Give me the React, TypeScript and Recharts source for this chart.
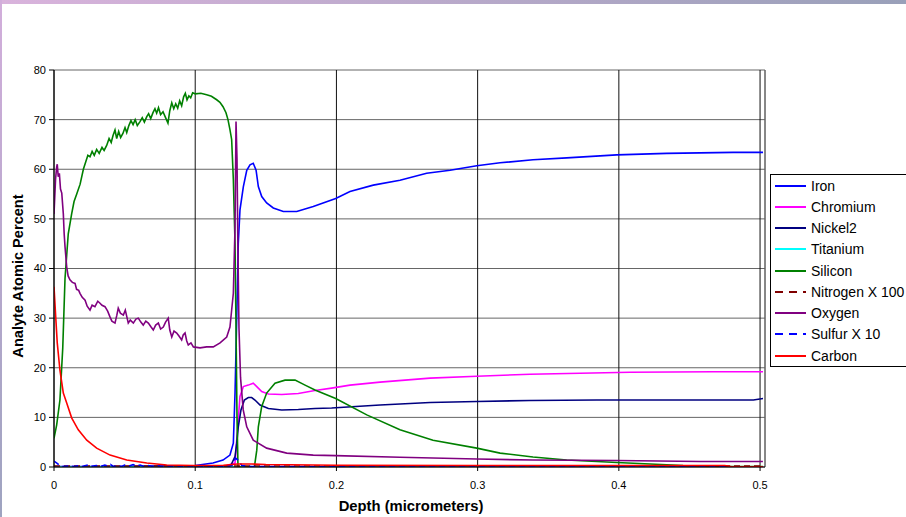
import React from 'react';
import { LineChart, Line, XAxis, YAxis, CartesianGrid, Legend, ReferenceLine } from 'recharts';

const xTicks = [0, 0.1, 0.2, 0.3, 0.4, 0.5];
const yTicks = [0, 10, 20, 30, 40, 50, 60, 70, 80];
const X_MAX = 0.5035;

// [depth, atomic %]
const ironPts: [number, number][] = [
  [0, 0.1], [0.05, 0.1], [0.1, 0.3], [0.1126, 0.8], [0.1197, 1.4], [0.1246, 2.4], [0.127, 4.8],
  [0.1282, 14.9], [0.1298, 35], [0.1305, 45], [0.1317, 51.8], [0.1341, 56.5], [0.1365, 59.8],
  [0.1388, 60.9], [0.1411, 61.2], [0.1431, 59.8], [0.1447, 56.5], [0.1471, 54.5], [0.1506, 53.2],
  [0.1553, 52.2], [0.1624, 51.5], [0.1719, 51.5], [0.1836, 52.5], [0.1995, 54.1], [0.2096, 55.5],
  [0.2261, 56.8], [0.245, 57.8], [0.2639, 59.2], [0.2805, 59.8], [0.2994, 60.7], [0.3159, 61.3],
  [0.3392, 61.9], [0.3631, 62.3], [0.3867, 62.7], [0.3985, 62.9], [0.4339, 63.2], [0.4809, 63.4],
  [0.5021, 63.4],
];

const chromiumPts: [number, number][] = [
  [0, 0], [0.12, 0.1], [0.1246, 0.5], [0.1282, 0.8], [0.1301, 8.1], [0.1317, 14.2], [0.1341, 16.2],
  [0.1376, 16.5], [0.1411, 16.9], [0.1436, 16.2], [0.1471, 15.2], [0.1518, 14.7], [0.1613, 14.6],
  [0.173, 14.8], [0.1848, 15.4], [0.1966, 15.9], [0.2096, 16.5], [0.2309, 17.1], [0.2663, 17.9],
  [0.2994, 18.3], [0.3371, 18.7], [0.3725, 18.9], [0.4079, 19.1], [0.4667, 19.2], [0.5021, 19.2],
];

const nickelPts: [number, number][] = [
  [0, 0], [0.125, 0.2], [0.1282, 2.1], [0.1294, 4.8], [0.1305, 8.1], [0.1324, 11.5], [0.1348, 13.5],
  [0.1376, 14.0], [0.14, 14.0], [0.1423, 13.5], [0.1459, 12.5], [0.1518, 11.8], [0.1613, 11.5],
  [0.173, 11.6], [0.1848, 11.8], [0.1966, 11.9], [0.2309, 12.5], [0.2663, 13.0], [0.2994, 13.2],
  [0.3371, 13.4], [0.3843, 13.5], [0.4315, 13.5], [0.4953, 13.5], [0.5021, 13.8],
];

const titaniumPts: [number, number][] = [[0, 0], [0.25, 0], [0.5021, 0]];

const siliconPts: [number, number][] = [
  [0, 5.8], [0.0019, 8.5], [0.0042, 13.5], [0.0062, 24], [0.0078, 38], [0.0101, 47], [0.0125, 51],
  [0.0142, 53.5], [0.0161, 55], [0.0185, 57], [0.0208, 60], [0.0225, 61.5], [0.024, 62.8],
  [0.0255, 62.5], [0.027, 63.6], [0.0285, 62.8], [0.0302, 64], [0.032, 63.2], [0.034, 64.4],
  [0.0355, 63.8], [0.0373, 64.8], [0.039, 66.2], [0.0405, 65.4], [0.0418, 66.8], [0.0432, 67.9],
  [0.0444, 66.2], [0.0458, 67.6], [0.0472, 66.4], [0.0488, 67.2], [0.0503, 68.4], [0.0515, 67.4],
  [0.053, 68.8], [0.0545, 69.8], [0.056, 69], [0.0575, 70], [0.059, 68.8], [0.0609, 69.6],
  [0.0625, 70.4], [0.064, 69.5], [0.0657, 70.6], [0.067, 71.2], [0.0685, 70.2], [0.0701, 71.4],
  [0.0715, 72.2], [0.0727, 71.3], [0.074, 72.4], [0.0755, 71], [0.0772, 71.6], [0.079, 70.4],
  [0.0807, 69.3], [0.082, 71.8], [0.0834, 73.4], [0.0848, 72.2], [0.0862, 73.2], [0.0876, 72.3],
  [0.089, 73.8], [0.0904, 72.8], [0.0918, 74.6], [0.093, 75.3], [0.0942, 74], [0.0955, 74.8],
  [0.0968, 74.4], [0.0982, 75.4], [0.1, 75.2], [0.104, 75.3], [0.1081, 75], [0.1115, 74.7],
  [0.1152, 74], [0.1175, 73.5], [0.1197, 72.6], [0.1218, 71.4], [0.1232, 70], [0.1246, 68],
  [0.1258, 66], [0.127, 58], [0.1282, 45], [0.1289, 28], [0.1296, 10], [0.1303, 0], [0.1419, 0],
  [0.1436, 3.4], [0.1447, 8.1], [0.1471, 12.2], [0.1506, 14.9], [0.1565, 16.9], [0.1636, 17.5],
  [0.1707, 17.5], [0.1778, 16.5], [0.1848, 15.5], [0.1995, 13.8], [0.2215, 10.5], [0.245, 7.5],
  [0.2684, 5.4], [0.2994, 3.8], [0.3159, 2.8], [0.3392, 2.0], [0.3631, 1.4], [0.3985, 0.9],
  [0.4221, 0.6], [0.4455, 0.3], [0.4788, 0.1], [0.502, 0.1],
];

const nitrogenPts: [number, number][] = [[0, 0.2], [0.25, 0.2], [0.5021, 0.2]];

const oxygenPts: [number, number][] = [
  [0, 51], [0.0011, 58], [0.0019, 60.5], [0.0023, 61], [0.003, 58.5], [0.0038, 59.2], [0.0046, 56],
  [0.0055, 55.2], [0.0066, 51], [0.0072, 47], [0.0078, 44.4], [0.009, 40.3], [0.01, 38.5],
  [0.0113, 37.7], [0.013, 37.2], [0.0149, 37], [0.016, 35.8], [0.0175, 35.6], [0.0184, 35],
  [0.02, 34.2], [0.022, 33.6], [0.0235, 32.4], [0.0255, 31.6], [0.027, 32.6], [0.029, 32.3],
  [0.031, 33.4], [0.0326, 33], [0.034, 32.6], [0.0361, 32.3], [0.038, 31.4], [0.0397, 30.2],
  [0.041, 29.4], [0.0432, 29], [0.0445, 30.6], [0.0455, 32], [0.047, 31], [0.0491, 30.6],
  [0.0505, 31.6], [0.0526, 29], [0.054, 29.6], [0.0562, 29], [0.058, 29.8], [0.0597, 30],
  [0.0615, 29.2], [0.0632, 28.6], [0.065, 29.4], [0.0668, 29], [0.0685, 28.3], [0.0703, 27.6],
  [0.072, 28.6], [0.0739, 29], [0.0755, 27.8], [0.0774, 28.2], [0.079, 29.2], [0.0809, 30],
  [0.082, 27.6], [0.0834, 26.2], [0.085, 27.4], [0.0869, 27], [0.0885, 26.4], [0.0904, 25.6],
  [0.0915, 26.6], [0.0928, 27], [0.094, 25.4], [0.0951, 24.6], [0.097, 25], [0.0987, 24.2],
  [0.1034, 24], [0.1081, 24.2], [0.1128, 24.2], [0.1176, 25], [0.1223, 26.2], [0.1246, 28.2],
  [0.127, 35], [0.1282, 48.4], [0.1289, 69.6], [0.1296, 62], [0.1302, 45], [0.131, 28],
  [0.1321, 18], [0.134, 11.5], [0.1365, 8.1], [0.1411, 5.4], [0.1506, 3.8], [0.1648, 2.8],
  [0.1836, 2.4], [0.1995, 2.3], [0.245, 1.95], [0.2994, 1.6], [0.3392, 1.4], [0.3985, 1.3],
  [0.4575, 1.1], [0.502, 1.1],
];

const sulfurPts: [number, number][] = [
  [0, 1.2], [0.002, 0.8], [0.004, 0.3], [0.006, 0.1], [0.01, 0.2], [0.014, 0.1], [0.018, 0.3],
  [0.02, 0.1], [0.024, 0.4], [0.026, 0.1], [0.03, 0.3], [0.033, 0.1], [0.036, 0.4], [0.038, 0.2],
  [0.04, 0.5], [0.042, 0.1], [0.045, 0.3], [0.048, 0.1], [0.05, 0.4], [0.053, 0.2], [0.056, 0.5],
  [0.058, 0.2], [0.061, 0.4], [0.064, 0.1], [0.067, 0.3], [0.07, 0.1], [0.073, 0.3], [0.076, 0.1],
  [0.08, 0.2], [0.085, 0.1], [0.09, 0.2], [0.095, 0.1], [0.1, 0.1], [0.12, 0.1], [0.126, 0.3],
  [0.1285, 1.8], [0.131, 1.2], [0.133, 0.3], [0.14, 0.1], [0.2, 0.05], [0.5021, 0.05],
];

const carbonPts: [number, number][] = [
  [0, 36.3], [0.0012, 30.3], [0.0023, 25], [0.0042, 19.5], [0.0066, 14.9], [0.009, 12.9],
  [0.0125, 9.9], [0.0172, 7.5], [0.0232, 5.4], [0.0302, 3.8], [0.0397, 2.4], [0.0515, 1.4],
  [0.0657, 0.8], [0.0798, 0.4], [0.0987, 0.3], [0.12, 0.35], [0.13, 0.6], [0.14, 0.6],
  [0.15, 0.5], [0.2, 0.35], [0.3, 0.3], [0.4, 0.3], [0.475, 0.3], [0.48, 0.05], [0.5021, 0.05],
];

const series = [
  { name: 'Iron', color: '#0000FF', pts: ironPts, dash: undefined },
  { name: 'Chromium', color: '#FF00FF', pts: chromiumPts, dash: undefined },
  { name: 'Nickel2', color: '#000080', pts: nickelPts, dash: undefined },
  { name: 'Titanium', color: '#00FFFF', pts: titaniumPts, dash: undefined },
  { name: 'Silicon', color: '#008000', pts: siliconPts, dash: undefined },
  { name: 'Nitrogen X 100', color: '#800000', pts: nitrogenPts, dash: '6 4' },
  { name: 'Oxygen', color: '#800080', pts: oxygenPts, dash: undefined },
  { name: 'Sulfur X 10', color: '#0000FF', pts: sulfurPts, dash: '6 4' },
  { name: 'Carbon', color: '#FF0000', pts: carbonPts, dash: undefined },
];

const FONT = 'Arial, "Liberation Sans", sans-serif';

const renderLegend = () => (
  <div style={{ border: '1px solid #000', background: '#fff', fontFamily: FONT, fontSize: 14, color: '#000', width: 150 }}>
    {series.map((s) => (
      <div key={s.name} style={{ height: 21.25, display: 'flex', alignItems: 'center', whiteSpace: 'nowrap' }}>
        <svg width={36} height={4} style={{ marginLeft: 4 }}>
          <line x1={0} y1={2} x2={31} y2={2} stroke={s.color} strokeWidth={2} strokeDasharray={s.dash ? '8 6' : undefined} />
        </svg>
        <span>{s.name}</span>
      </div>
    ))}
  </div>
);

const yLabel = () => (
  <text x={23} y={276} transform="rotate(-90 23 276)" textAnchor="middle" fontFamily={FONT} fontWeight="bold" fontSize={14.6} fill="#000">
    Analyte Atomic Percent
  </text>
);

const xLabel = () => (
  <text x={411} y={511} textAnchor="middle" fontFamily={FONT} fontWeight="bold" fontSize={14.8} fill="#000">
    Depth (micrometers)
  </text>
);

export default function App() {
  return (
    <div style={{ position: 'absolute', left: 0, top: 0, width: 906, height: 517, overflow: 'hidden', background: '#fff' }}>
      <LineChart width={906} height={517} margin={{ top: 70, right: 141, bottom: 0, left: 0 }}>
        <CartesianGrid vertical={false} stroke="#666" strokeWidth={1} />
        <CartesianGrid horizontal={false} stroke="#111" strokeWidth={1} />
        <XAxis
          dataKey="x"
          type="number"
          domain={[0, X_MAX]}
          ticks={xTicks}
          height={50}
          tickSize={4}
          tickMargin={10}
          axisLine={{ stroke: '#000' }}
          tickLine={{ stroke: '#000' }}
          tick={{ fontSize: 11, fill: '#000', fontFamily: FONT }}
          allowDataOverflow
          label={{ content: xLabel }}
        />
        <YAxis
          type="number"
          domain={[0, 80]}
          ticks={yTicks}
          width={54}
          tickSize={5}
          tickMargin={3}
          axisLine={{ stroke: '#000' }}
          tickLine={{ stroke: '#000' }}
          tick={{ fontSize: 11, fill: '#000', fontFamily: FONT }}
          allowDataOverflow
          label={{ content: yLabel }}
        />
        <ReferenceLine x={X_MAX} stroke="#888" />
        {series.map((s) => (
          <Line
            key={s.name}
            name={s.name}
            data={s.pts.map(([x, y]) => ({ x, y }))}
            dataKey="y"
            type="linear"
            stroke={s.color}
            strokeWidth={1.6}
            strokeDasharray={s.dash}
            dot={false}
            activeDot={false}
            isAnimationActive={false}
          />
        ))}
        <Legend
          layout="vertical"
          align="center"
          verticalAlign="middle"
          content={renderLegend}
          wrapperStyle={{ left: 770, top: 174, width: 150 }}
        />
      </LineChart>
      <div style={{ position: 'absolute', left: 0, top: 0, width: 906, height: 4, background: 'linear-gradient(to right, #d9b3dc, #99a0b9)' }} />
      <div style={{ position: 'absolute', left: 0, top: 0, width: 2, height: 517, background: 'linear-gradient(to bottom, #d2aedb, #9ea3c0)' }} />
    </div>
  );
}
